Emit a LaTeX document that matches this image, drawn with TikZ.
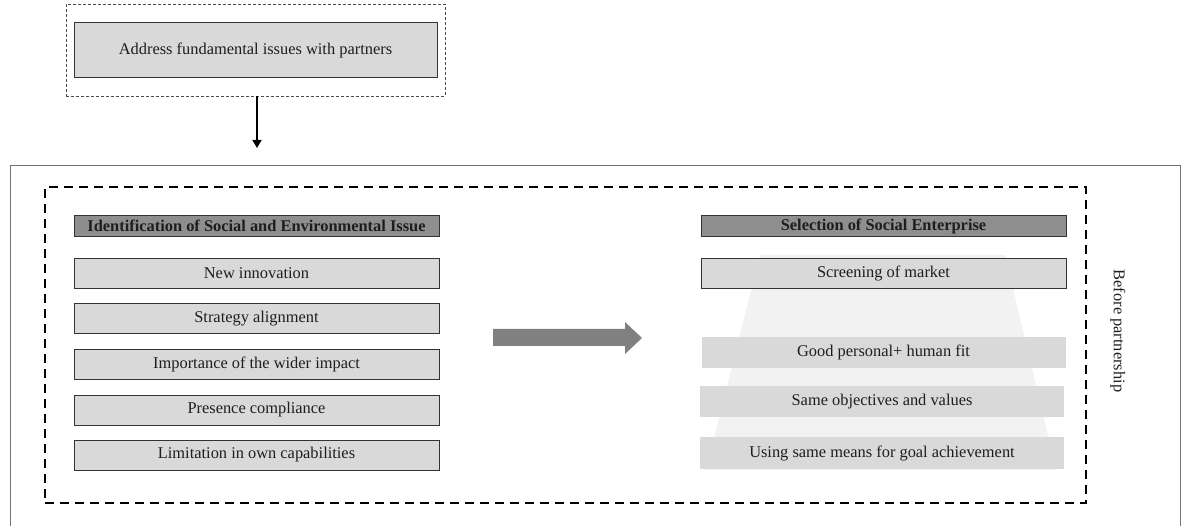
\documentclass[tikz,border=0pt]{standalone}
\usepackage{fontspec}
\setmainfont{Liberation Serif}
\usetikzlibrary{arrows.meta}
\definecolor{boxfill}{HTML}{D9D9D9}
\definecolor{headfill}{HTML}{8E8E8E}
\definecolor{trapfill}{HTML}{F2F2F2}
\definecolor{txt}{HTML}{1E1E1E}
\tikzset{
  itembox/.style={draw=black!80, line width=0.9pt, fill=boxfill, minimum width=365pt, minimum height=30pt, inner sep=0pt, text=txt, font=\fontsize{16.4}{18}\selectfont},
  headbox/.style={draw=black!80, line width=0.9pt, fill=headfill, minimum width=365pt, minimum height=21pt, inner sep=0pt, text=txt, font=\fontsize{16.4}{18}\selectfont\bfseries},
  softbox/.style={draw=none, fill=boxfill, minimum width=364pt, minimum height=31pt, inner sep=0pt, text=txt, font=\fontsize{16.4}{18}\selectfont},
}
\begin{document}
\begin{tikzpicture}[x=1pt,y=-1pt]
\useasboundingbox (0,0) rectangle (1184,526);
% top frame
\node[draw=black!70, dash pattern=on 3pt off 2pt, line width=0.8pt, minimum width=379pt, minimum height=92pt, inner sep=0pt] (topframe) at (255.5,50) {};
\node[itembox, minimum width=363pt, minimum height=55pt] (address) at (255.5,50) {Address fundamental issues with partners};
\coordinate (arrend) at (257,148);
\draw[line width=1.6pt, -{Triangle[width=9pt,length=8pt]}] (topframe.south -| arrend) -- (arrend);
% outer frame
\node[draw=black!55, line width=0.9pt, minimum width=1170pt, minimum height=370pt, inner sep=0pt] (outer) at (595,350) {};
% dashed frame
\node[draw=black, line width=1.5pt, dash pattern=on 9pt off 6pt, minimum width=1041pt, minimum height=316pt, inner sep=0pt] (dframe) at (565.5,345) {};
% left column
\node[headbox] (lhead) at (256.5,226) {Identification of Social and Environmental Issue};
\node[itembox] (l1) at (256.5,273.5) {New innovation};
\node[itembox] (l2) at (256.5,318.5) {Strategy alignment};
\node[itembox] (l3) at (256.5,364.5) {Importance of the wider impact};
\node[itembox] (l4) at (256.5,410) {Presence compliance};
\node[itembox] (l5) at (256.5,455) {Limitation in own capabilities};
% big arrow
\fill[black!50] (493,329) -- (625,329) -- (625,322) -- (642,338) -- (625,354) -- (625,346) -- (493,346) -- cycle;
% right column
\fill[trapfill] (760,255) -- (1005,255) -- (1056,470) -- (706,470) -- cycle;
\node[headbox] (rhead) at (883.5,226) {Selection of Social Enterprise};
\node[itembox] (r1) at (883.5,273.5) {Screening of market};
\node[softbox] (r2) at (883.5,352.5) {Good personal+ human fit};
\node[softbox] (r3) at (882,402) {Same objectives and values};
\node[softbox, minimum height=32pt] (r4) at (882,453.5) {Using same means for goal achievement};
% side label
\node[rotate=-90, text=txt, font=\fontsize{16.4}{18}\selectfont] (side) at (1118,331) {Before partnership};
\end{tikzpicture}
\end{document}
